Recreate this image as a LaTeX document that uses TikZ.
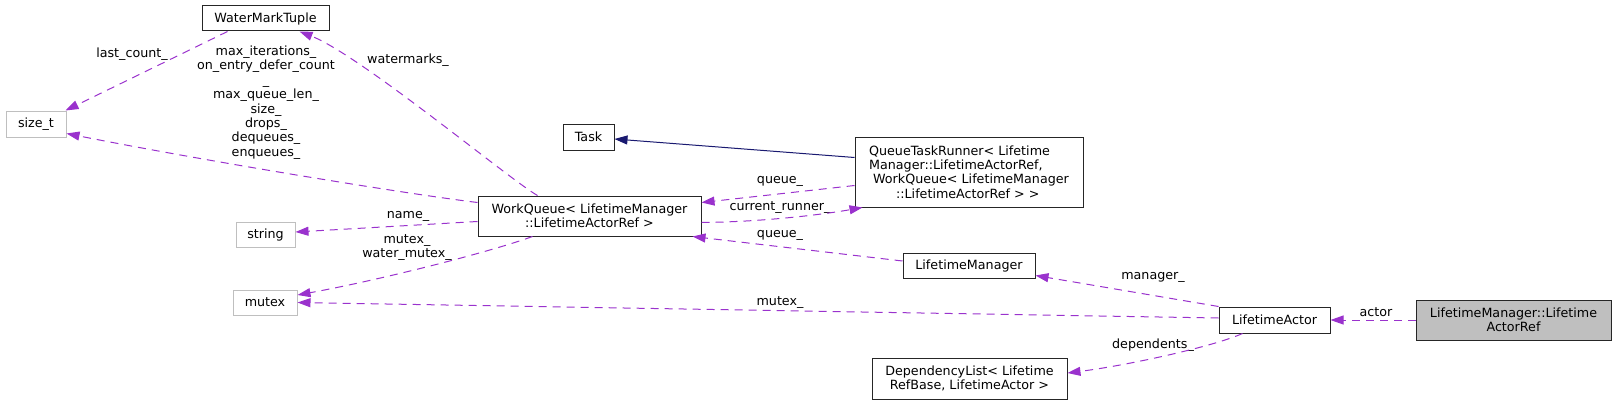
\documentclass[tikz,border=0pt]{standalone}
\usepackage{fontspec}
\setmainfont{DejaVu Sans}
\usetikzlibrary{arrows.meta,calc}
\definecolor{edgep}{HTML}{9A32CD}
\definecolor{navyedge}{HTML}{191970}
\definecolor{ungray}{HTML}{BFBFBF}
\newcommand\dgfont{\fontsize{12.7}{14.4}\selectfont}
\tikzset{
  cls/.style={draw=black!85, line width=1pt, rectangle, inner sep=0pt, align=center, font=\dgfont},
  ext/.style={cls, draw=ungray},
  lbl/.style={inner sep=0pt, align=center, font=\dgfont},
  rel/.style={draw=edgep, line width=1pt, dash pattern=on 8pt off 6pt, -{Triangle[length=13pt,width=9pt]}},
  inh/.style={draw=navyedge, line width=1pt, -{Triangle[length=13pt,width=9pt]}},
}
\begin{document}
\begin{tikzpicture}[x=1pt,y=-1pt]
\useasboundingbox (0,0) rectangle (1616,404);
% nodes
\node[cls, minimum width=127pt, minimum height=25pt] (wmt) at (265.5,18.5) {WaterMarkTuple};
\node[ext, minimum width=60pt, minimum height=26pt] (sizet) at (36,124) {size\_t};
\node[cls, minimum width=223pt, minimum height=40pt] (wq) at (589.5,216) {WorkQueue< LifetimeManager\\::LifetimeActorRef >};
\node[ext, minimum width=59pt, minimum height=25pt] (str) at (265.5,234.5) {string};
\node[ext, minimum width=64pt, minimum height=25pt] (mtx) at (265,302.5) {mutex};
\node[cls, minimum width=51pt, minimum height=26pt] (task) at (588.5,137) {Task};
\node[cls, minimum width=228pt, minimum height=70pt, align=left] (qtr) at (969,172) {QueueTaskRunner< Lifetime\\Manager::LifetimeActorRef,\\\hspace*{4pt}WorkQueue< LifetimeManager\\\hspace*{27pt}::LifetimeActorRef > >};
\node[cls, minimum width=132pt, minimum height=25pt] (lm) at (969,265.5) {LifetimeManager};
\node[cls, minimum width=111pt, minimum height=26pt] (la) at (1274.5,320) {LifetimeActor};
\node[cls, fill=ungray, minimum width=195pt, minimum height=40pt] (lar) at (1513.5,320) {LifetimeManager::Lifetime\\ActorRef};
\node[cls, minimum width=195pt, minimum height=41pt] (dl) at (969.5,378.5) {DependencyList< Lifetime\\RefBase, LifetimeActor >};
% labels
\node[lbl] (l1) at (132,54) {last\_count\_};
\node[lbl] (l2) at (266,102.5) {max\_iterations\_\\on\_entry\_defer\_count\\\_\\max\_queue\_len\_\\size\_\\drops\_\\dequeues\_\\enqueues\_};
\node[lbl] (l3) at (408,60) {watermarks\_};
\node[lbl] (l4) at (408,216) {name\_};
\node[lbl] (l5) at (407,247.5) {mutex\_\\water\_mutex\_};
\node[lbl] (l6) at (780,181) {queue\_};
\node[lbl] (l7) at (780,208) {current\_runner\_};
\node[lbl] (l8) at (780,235) {queue\_};
\node[lbl] (l9) at (1153,277) {manager\_};
\node[lbl] (l10) at (780,303) {mutex\_};
\node[lbl] (l11) at (1153,345) {dependents\_};
\node[lbl] (l12) at (1376,312) {actor};
% edges
\draw[rel] ($(wmt.south west)+(26,0)$) -- ($(sizet.north east)+(-1,0)$);
\draw[rel] ($(wq.north west)+(0,7)$) .. controls (400,193) and (200,160) .. ($(sizet.south east)+(0,-4)$);
\draw[rel] ($(wq.north west)+(60,0)$) .. controls (510,180) and (360,55) .. ($(wmt.south west)+(98,0)$);
\draw[rel] ($(wq.north west)+(0,26)$) -- ($(str.east)+(0,-2.5)$);
\draw[rel] ($(wq.south west)+(55,0)$) .. controls (490,252) and (380,280) .. ($(mtx.east)+(0,-7.5)$);
\draw[inh] ($(qtr.north west)+(0,21)$) -- ($(task.east)+(0,2)$);
\draw[rel] ($(qtr.north west)+(0,49)$) -- ($(wq.north east)+(0,7)$);
\draw[rel] ($(wq.north east)+(0,27)$) .. controls (760,222) and (820,215) .. ($(qtr.south west)+(8,0)$);
\draw[rel] ($(lm.west)+(0,-4.5)$) -- ($(wq.south east)+(-9,0)$);
\draw[rel] (la.north west) -- ($(lm.south east)+(0,-3)$);
\draw[rel] ($(la.west)+(0,-2)$) -- (mtx.east);
\draw[rel] ($(la.south west)+(24,0)$) .. controls (1215,346) and (1130,365) .. ($(dl.east)+(0,-5.5)$);
\draw[rel] (lar.west) -- (la.east);
\end{tikzpicture}
\end{document}
